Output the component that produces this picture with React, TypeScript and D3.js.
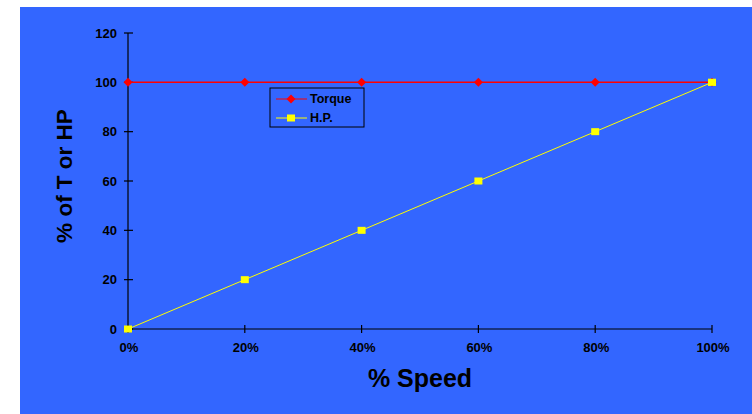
import React, { useEffect, useRef } from "react";
import * as d3 from "d3";

// % of rated speed
const speeds = [0, 20, 40, 60, 80, 100];
// Torque stays at 100% across the speed range
const torque = [100, 100, 100, 100, 100, 100];
// Horsepower rises linearly with speed
const hp = [0, 20, 40, 60, 80, 100];
const yTicks = [0, 20, 40, 60, 80, 100, 120];

const W = 752;
const H = 414;
const BLUE = "#3366FF";
const FONT = "'Liberation Sans', Arial, sans-serif";
const DIAMOND = "M0,-4.5L4.5,0L0,4.5L-4.5,0Z";

export default function App() {
  const ref = useRef<SVGSVGElement>(null);

  useEffect(() => {
    const svg = d3.select(ref.current);
    svg.selectAll("*").remove();

    svg.append("rect").attr("width", W).attr("height", H).attr("fill", "#ffffff");
    svg.append("rect").attr("x", 20).attr("y", 7).attr("width", W - 20).attr("height", H - 7).attr("fill", BLUE);

    const x = d3.scaleLinear().domain([0, 100]).range([128, 712]);
    const y = d3.scaleLinear().domain([0, 120]).range([329, 33]);

    // y axis
    const yAxis = svg.append("g");
    yAxis.append("line").attr("x1", x(0)).attr("x2", x(0)).attr("y1", y(0)).attr("y2", y(120))
      .attr("stroke", "#000").attr("stroke-width", 1.2);
    yTicks.forEach((t) => {
      yAxis.append("line").attr("x1", x(0) - 4).attr("x2", x(0) + 5).attr("y1", y(t)).attr("y2", y(t))
        .attr("stroke", "#000").attr("stroke-width", 1.2);
      yAxis.append("text").attr("x", x(0) - 11).attr("y", y(t)).attr("dy", "0.35em")
        .attr("text-anchor", "end").attr("font-family", FONT).attr("font-weight", "bold")
        .attr("font-size", 13).attr("fill", "#000").text(String(t));
    });

    // x axis
    const xAxis = svg.append("g");
    xAxis.append("line").attr("x1", x(0)).attr("x2", x(100)).attr("y1", y(0)).attr("y2", y(0))
      .attr("stroke", "#000").attr("stroke-width", 1.2);
    speeds.forEach((s) => {
      xAxis.append("line").attr("x1", x(s)).attr("x2", x(s)).attr("y1", y(0) - 4).attr("y2", y(0) + 4)
        .attr("stroke", "#000").attr("stroke-width", 1.2);
      xAxis.append("text").attr("x", x(s) + 1).attr("y", y(0) + 23)
        .attr("text-anchor", "middle").attr("font-family", FONT).attr("font-weight", "bold")
        .attr("font-size", 13).attr("fill", "#000").text(`${s}%`);
    });

    // axis titles
    svg.append("text").attr("x", 420).attr("y", 387).attr("text-anchor", "middle")
      .attr("font-family", FONT).attr("font-weight", "bold").attr("font-size", 25).attr("fill", "#000")
      .text("% Speed");
    svg.append("text").attr("transform", "translate(72,176) rotate(-90)").attr("text-anchor", "middle")
      .attr("font-family", FONT).attr("font-weight", "bold").attr("font-size", 22.5).attr("fill", "#000")
      .text("% of T or HP");

    const line = d3.line<number>().x((_, i) => x(speeds[i])).y((d) => y(d));

    // HP series
    svg.append("path").attr("d", line(hp)).attr("fill", "none").attr("stroke", "#FFFF00").attr("stroke-width", 1);
    svg.selectAll(".hp").data(hp).enter().append("rect")
      .attr("x", (_, i) => x(speeds[i]) - 4).attr("y", (d) => y(d) - 3.5)
      .attr("width", 8).attr("height", 7).attr("fill", "#FFFF00");

    // Torque series
    svg.append("path").attr("d", line(torque)).attr("fill", "none").attr("stroke", "#FF0000").attr("stroke-width", 1.5);
    svg.selectAll(".tq").data(torque).enter().append("path")
      .attr("d", DIAMOND).attr("transform", (d, i) => `translate(${x(speeds[i])},${y(d)})`)
      .attr("fill", "#FF0000");
    // HP end marker drawn over the torque line
    svg.append("rect").attr("x", x(100) - 4).attr("y", y(hp[hp.length - 1]) - 3.5)
      .attr("width", 8).attr("height", 7).attr("fill", "#FFFF00");

    // legend
    const lg = svg.append("g").attr("transform", "translate(270,88)");
    lg.append("rect").attr("width", 94).attr("height", 39).attr("fill", "none")
      .attr("stroke", "#000").attr("stroke-width", 1);
    lg.append("line").attr("x1", 6).attr("x2", 37).attr("y1", 11).attr("y2", 11).attr("stroke", "#FF0000");
    lg.append("path").attr("d", DIAMOND).attr("transform", "translate(21,11)").attr("fill", "#FF0000");
    lg.append("text").attr("x", 40).attr("y", 11).attr("dy", "0.35em").attr("font-family", FONT)
      .attr("font-weight", "bold").attr("font-size", 12.5).attr("fill", "#000").text("Torque");
    lg.append("line").attr("x1", 6).attr("x2", 37).attr("y1", 30).attr("y2", 30).attr("stroke", "#FFFF00");
    lg.append("rect").attr("x", 17).attr("y", 26.5).attr("width", 8).attr("height", 7).attr("fill", "#FFFF00");
    lg.append("text").attr("x", 40).attr("y", 30).attr("dy", "0.35em").attr("font-family", FONT)
      .attr("font-weight", "bold").attr("font-size", 12.5).attr("fill", "#000").text("H.P.");
  }, []);

  return (
    <svg ref={ref} width={W} height={H} style={{ position: "absolute", left: 0, top: 0, display: "block" }} />
  );
}
